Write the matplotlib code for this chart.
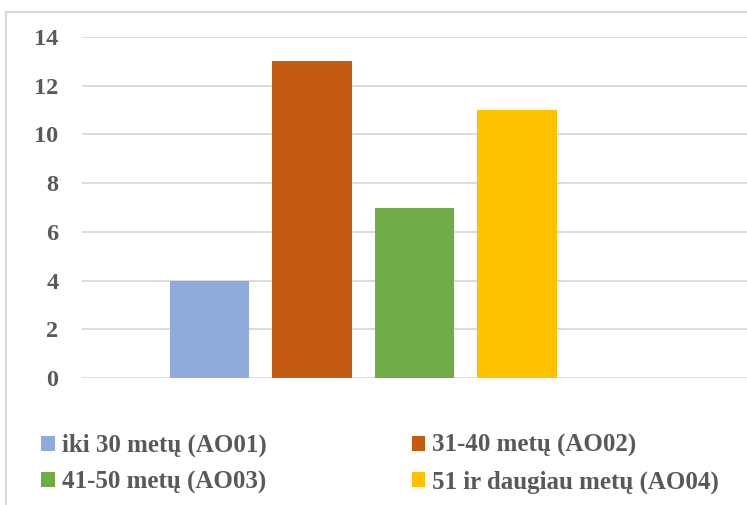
import matplotlib
matplotlib.use("Agg")
import matplotlib.pyplot as plt
from matplotlib.patches import Rectangle

labels = ["iki 30 metų (AO01)", "31-40 metų (AO02)", "41-50 metų (AO03)", "51 ir daugiau metų (AO04)"]
values = [4, 13, 7, 11]
colors = ["#8faadc", "#c55a11", "#70ad47", "#ffc000"]
yticks = [0, 2, 4, 6, 8, 10, 12, 14]

W, H = 747, 505
fig = plt.figure(figsize=(W / 100, H / 100), dpi=100)
fig.patch.set_facecolor("white")

# outer chart frame (cropped on right/bottom)
fig.patches.append(Rectangle((6 / W, -0.1), 1.2, (H - 12) / H + 0.1, transform=fig.transFigure,
                             fill=False, edgecolor="#d9d9d9", linewidth=1.5))

ax = fig.add_axes([82 / W, 1 - 378 / H, (W - 82) / W, (378 - 37) / H])
ax.set_ylim(0, 14)
xs = list(range(len(values)))
bars = []
for x, v, c, l in zip(xs, values, colors, labels):
    bars.append(ax.bar(x, v, width=0.78, color=c, label=l, zorder=3))
ax.set_xlim(-1.244, 5.244)
ax.set_yticks(yticks)
ax.set_xticks([])
ax.grid(axis="y", color="#d9d9d9", linewidth=1.3, zorder=0)
ax.set_axisbelow(True)
for s in ax.spines.values():
    s.set_visible(False)
ax.tick_params(axis="y", length=0, pad=17, labelsize=17.5, labelcolor="#595959")
for t in ax.get_yticklabels():
    t.set_fontfamily("Liberation Serif")
    t.set_fontweight("bold")

order = [0, 2, 1, 3]
leg = fig.legend(handles=[bars[i][0] for i in order], labels=[labels[i] for i in order], ncol=2,
                 loc="upper left", bbox_to_anchor=(41 / W, 1 - 434 / H),
                 frameon=False, borderpad=0, borderaxespad=0,
                 handlelength=0.55, handleheight=0.55, handletextpad=0.28,
                 columnspacing=5.8, labelspacing=0.53,
                 prop={"family": "Liberation Serif", "weight": "bold", "size": 18})
for t in leg.get_texts():
    t.set_color("#595959")

fig.savefig("out.png", dpi=100)
